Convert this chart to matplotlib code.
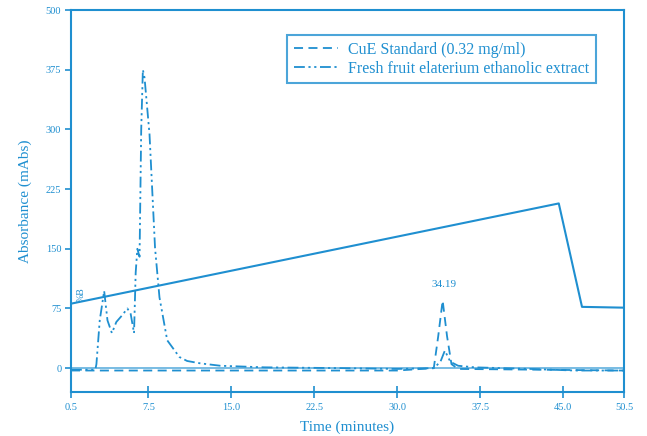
import matplotlib
matplotlib.use("Agg")
import matplotlib.pyplot as plt

blue = "#1f8fd0"

# gradient (%B) program trace
grad_t = [0.5, 44.6, 46.7, 50.5]
grad_v = [81, 207, 77, 76]

# fresh fruit elaterium ethanolic extract
ext_t = [0.5, 2.7, 2.8, 3.1, 3.5, 3.8, 4.2, 4.6, 5.1, 5.6, 5.9, 6.2, 6.35, 6.5, 6.7,
         6.85, 7.0, 7.15, 7.6, 8.1, 8.5, 9.2, 10.3, 11.0, 12.2, 14.0, 18.0, 25.0,
         30.0, 33.3, 33.9, 34.3, 34.8, 35.5, 37.0, 42.0, 46.0, 50.5]
ext_v = [-2, -2, 5, 60, 97, 60, 44, 58, 66, 75, 68, 44, 120, 150, 140,
         300, 375, 365, 294, 151, 89, 35, 14, 9, 6, 3, 1, 0,
         -1, 0, 8, 22, 8, 3, 1, -1, -3, -3]

# CuE standard
std_t = [0.5, 30.0, 33.3, 33.7, 34.1, 34.5, 34.9, 35.5, 50.5]
std_v = [-3, -3, 0, 40, 85, 40, 5, -1, -3]

xticks = [0.5, 7.5, 15.0, 22.5, 30.0, 37.5, 45.0, 50.5]
xtick_labels = ["0.5", "7.5", "15.0", "22.5", "30.0", "37.5", "45.0", "50.5"]
yticks = [0, 75, 150, 225, 300, 375, 450]
ytick_labels = ["0", "75", "150", "225", "300", "375", "500"]

plt.rcParams["font.family"] = ["Liberation Serif", "DejaVu Serif"]

fig = plt.figure(figsize=(6.47, 4.36), dpi=100)
ax = fig.add_axes([0.1097, 0.1009, 0.8548, 0.876])

ax.plot(grad_t, grad_v, color=blue, lw=1.5)
ax.plot(std_t, std_v, color=blue, lw=1.3, ls=(0, (5, 3)),
        label="CuE Standard (0.32 mg/ml)")
ax.plot(ext_t, ext_v, color=blue, lw=1.3, ls=(0, (6, 2, 1.2, 2, 1.2, 2)),
        label="Fresh fruit elaterium ethanolic extract")
ax.axhline(0, color=blue, lw=1.2, alpha=0.7)

ax.text(34.19, 100, "34.19", color=blue, fontsize=8, ha="center", va="bottom")
ax.text(1.4, 92, "%B", color=blue, fontsize=7, rotation=90, ha="center", va="center")

ax.set_xlim(0.5, 50.5)
ax.set_ylim(-30, 450)
ax.set_xticks(xticks)
ax.set_xticklabels(xtick_labels)
ax.set_yticks(yticks)
ax.set_yticklabels(ytick_labels)
ax.tick_params(axis="x", direction="inout", length=8, width=1.2, colors=blue,
               labelsize=7.5, pad=4)
ax.tick_params(axis="y", direction="out", length=4, width=1.2, colors=blue,
               labelsize=7.5, pad=3)
for s in ax.spines.values():
    s.set_color(blue)
    s.set_linewidth(1.5)

ax.set_ylabel("Absorbance (mAbs)", color=blue, fontsize=11, labelpad=10)
ax.set_xlabel("Time (minutes)", color=blue, fontsize=11, labelpad=6)

leg = ax.legend(loc="upper right", bbox_to_anchor=(0.963, 0.955), fontsize=11.5,
                frameon=True, fancybox=False, handlelength=2.8,
                borderpad=0.4, labelspacing=0.2, handletextpad=0.6)
leg.get_frame().set_edgecolor(blue)
leg.get_frame().set_linewidth(1.5)
for t in leg.get_texts():
    t.set_color(blue)

fig.savefig("out.png", dpi=100)
